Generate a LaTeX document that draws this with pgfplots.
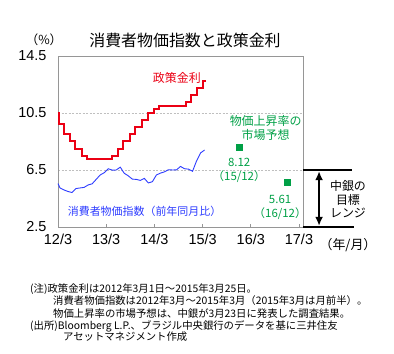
\documentclass[border=0pt]{standalone}
\usepackage{fontspec}
\setmainfont{Noto Sans CJK JP}
\newfontfamily\arialfont{Liberation Sans}
\usepackage{pgfplots}
\pgfplotsset{compat=1.18}
\usetikzlibrary{arrows.meta}
\definecolor{rrate}{RGB}{235,0,20}
\definecolor{bcpi}{RGB}{45,60,255}
\definecolor{gexp}{RGB}{0,160,70}
\definecolor{frame}{RGB}{150,150,150}
\begin{document}
\begin{tikzpicture}[x=1bp,y=1bp]
\useasboundingbox (0,0) rectangle (394,354);
\node[font=\fontsize{16}{18}\selectfont] at (185,314) {消費者物価指数と政策金利};
\node[font=\fontsize{12.5}{14}\selectfont] at (44,314) {（\%）};
\begin{axis}[
  at={(58bp,127bp)}, anchor=south west, scale only axis,
  width=245bp, height=171bp,
  xmin=0, xmax=61, ymin=2.5, ymax=14.5,
  xtick={0,12,24,36,48,60},
  xticklabels={12/3,13/3,14/3,15/3,16/3,17/3},
  ytick={2.5,6.5,10.5,14.5},
  yticklabels={2.5,6.5,10.5,14.5},
  ticklabel style={font=\arialfont\fontsize{14.5}{16}\selectfont},
  xticklabel style={yshift=-4bp},
  yticklabel style={xshift=-8bp},
  xtick pos=bottom, ytick pos=left,
  tick align=inside,
  xtick style={frame, line width=0.8bp},
  major tick length=3bp,
  ytick style={draw=none},
  axis line style={frame, line width=0.9bp},
  ymajorgrids, grid style={gray!50, dash pattern=on 2bp off 1.5bp, line width=0.6bp},
  clip=false,
]
% policy rate (Selic)
\addplot[const plot, rrate, line width=2bp] coordinates {
(0,10.5) (0.2,9.75) (1.57,9.0) (2.97,8.5) (4.35,8.0) (5.93,7.5) (7.3,7.25)
(13.53,7.5) (14.93,8.0) (16.3,8.5) (17.9,9.0) (19.27,9.5) (20.87,10.0)
(22.47,10.5) (23.83,10.75) (25.03,11.0) (31.9,11.25) (33.07,11.75)
(34.67,12.25) (36.1,12.75) (36.8,12.75)};
% CPI yoy
\addplot[bcpi, line width=0.9bp] coordinates {
(0,5.55) (0.5,5.24) (1.5,5.10) (2.5,4.99) (3.5,4.92) (4.5,5.20) (5.5,5.24)
(6.5,5.28) (7.5,5.45) (8.5,5.53) (9.5,5.84) (10.5,6.15) (11.5,6.31)
(12.5,6.59) (13.5,6.49) (14.5,6.50) (15.5,6.70) (16.5,6.27) (17.5,6.09)
(18.5,5.86) (19.5,5.84) (20.5,5.77) (21.5,5.91) (22.5,5.59) (23.5,5.68)
(24.5,6.15) (25.5,6.28) (26.5,6.37) (27.5,6.52) (28.5,6.50) (29.5,6.51)
(30.5,6.75) (31.5,6.59) (32.5,6.56) (33.5,6.41) (34.5,7.14) (35.5,7.70)
(36.5,7.90)};
% market expectations
\addplot[only marks, mark=square*, mark size=3bp, gexp, mark options={draw=gexp, fill=gexp}] coordinates {
(45,8.12) (57,5.61)};
\node[rrate, font=\fontsize{12}{14}\selectfont] at (axis cs:29.6,12.96) {政策金利};
\node[bcpi, font=\fontsize{11}{13}\selectfont, anchor=west, inner sep=0pt] at (axis cs:2.4,3.62) {消費者物価指数（前年同月比）};
\node[gexp, font=\fontsize{12}{14.5}\selectfont, align=center] at (axis cs:51.7,9.45) {物価上昇率の\\市場予想};
\node[gexp, font=\fontsize{11.5}{14}\selectfont, align=center] at (axis cs:45.1,6.47) {8.12\\（15/12）};
\node[gexp, font=\fontsize{11.5}{14}\selectfont, align=center] at (axis cs:55.3,3.87) {5.61\\（16/12）};
\draw[black, line width=2bp] (axis cs:61,6.5) -- (axis cs:73.2,6.5);
\draw[black, line width=2bp] (axis cs:61,2.5) -- (axis cs:73.7,2.5);
\draw[black, line width=2.6bp, {Latex[length=9bp,width=8bp]}-{Latex[length=9bp,width=8bp]}] (axis cs:65,6.42) -- (axis cs:65,2.58);
\node[font=\fontsize{12}{13.5}\selectfont, align=center] at (axis cs:72.2,4.45) {中銀の\\目標\\レンジ};
\end{axis}
\node[font=\fontsize{13}{15}\selectfont] at (348,109) {（年/月）};
\begin{scope}[every node/.style={anchor=west, inner sep=0pt, font=\fontsize{10.4}{12}\selectfont}]
\node at (30,65) {(注)政策金利は2012年3月1日～2015年3月25日。};
\node at (53,53) {消費者物価指数は2012年3月～2015年3月（2015年3月は月前半）。};
\node at (53,40) {物価上昇率の市場予想は、中銀が3月23日に発表した調査結果。};
\node at (30,28) {(出所)Bloomberg L.P.、ブラジル中央銀行のデータを基に三井住友};
\node at (63,17) {アセットマネジメント作成};
\end{scope}
\end{tikzpicture}
\end{document}
